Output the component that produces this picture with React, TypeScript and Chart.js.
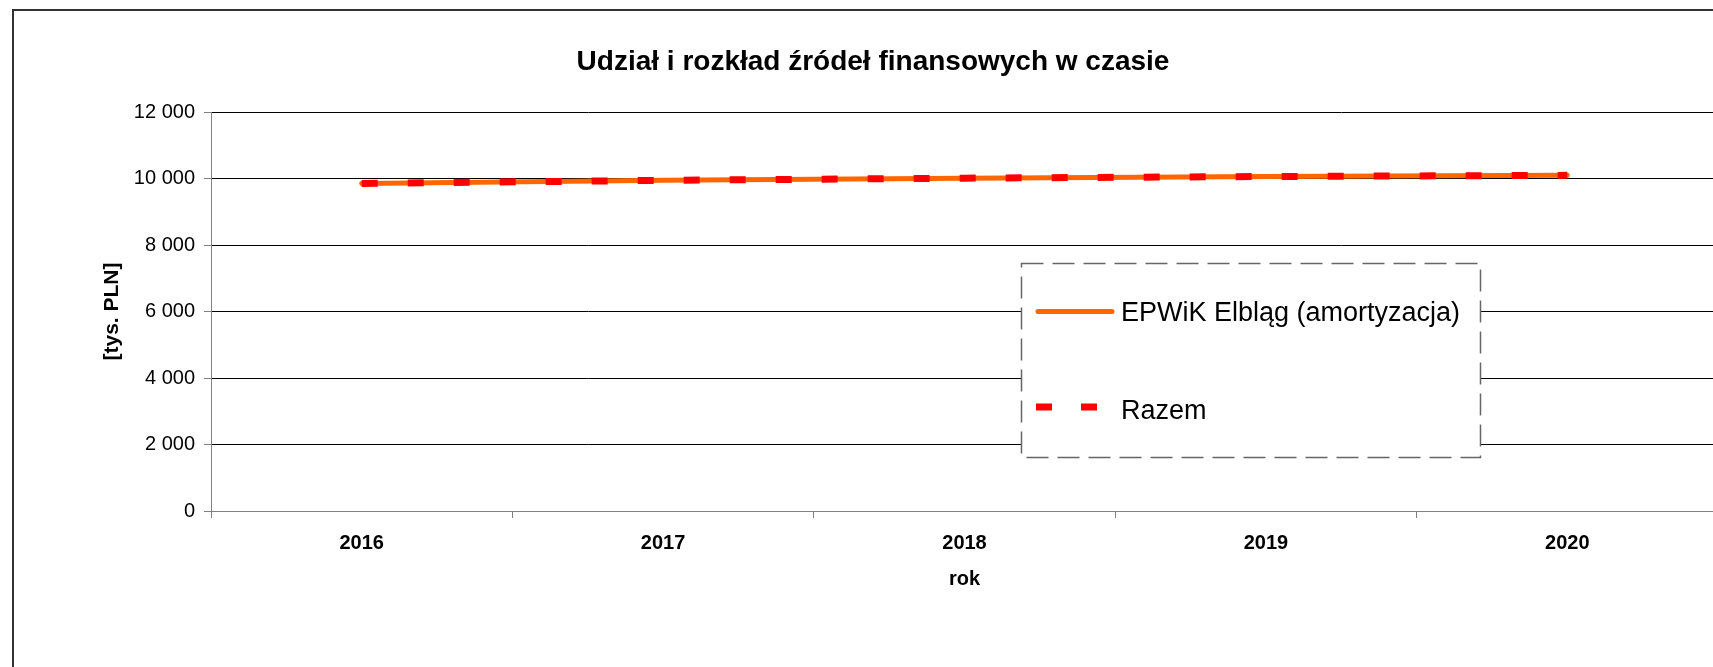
import { useEffect, useRef } from 'react';
import { Chart, registerables } from 'chart.js';

Chart.register(...registerables);

const years = ['2016', '2017', '2018', '2019', '2020'];
const epwikValues = [9850, 9945, 10010, 10060, 10095];
const razemValues = [9850, 9945, 10010, 10060, 10095];
const seriesNames = ['EPWiK Elbląg (amortyzacja)', 'Razem'];
const seriesColors = ['#FF6600', '#FF0000'];
const yMin = 0;
const yMax = 12000;
const yStep = 2000;
const chartTitle = 'Udział i rozkład źródeł finansowych w czasie';
const xTitle = 'rok';
const yTitle = '[tys. PLN]';

const FONT = "'Liberation Sans', Arial, sans-serif";
const CANVAS_W = 1718;
const CANVAS_H = 667;

const fmt = (v: number) => String(v).replace(/\B(?=(\d{3})+(?!\d))/g, ' ');

const frameAndLegend = {
  id: 'frameAndLegend',
  beforeDraw(chart: any) {
    const ctx = chart.ctx;
    ctx.save();
    ctx.fillStyle = '#ffffff';
    ctx.fillRect(0, 0, chart.width, chart.height);
    ctx.strokeStyle = '#333333';
    ctx.lineWidth = 2;
    ctx.strokeRect(13, 10, chart.width + 20, chart.height + 20);
    ctx.restore();
  },
  afterDraw(chart: any) {
    const ctx = chart.ctx;
    const ds = chart.data.datasets;
    ctx.save();
    const x0 = 1021, y0 = 263, w = 459, h = 194;
    ctx.fillStyle = '#ffffff';
    ctx.fillRect(x0, y0, w, h);
    ctx.setLineDash([22, 9]);
    ctx.strokeStyle = '#666666';
    ctx.lineWidth = 1.5;
    ctx.strokeRect(x0 + 0.5, y0 + 0.5, w, h);
    ctx.setLineDash([]);

    // entry 1: solid line
    ctx.strokeStyle = ds[0].borderColor;
    ctx.lineWidth = 5;
    ctx.lineCap = 'round';
    ctx.beginPath();
    ctx.moveTo(1038, 311.5);
    ctx.lineTo(1112, 311.5);
    ctx.stroke();

    // entry 2: dashes
    ctx.fillStyle = ds[1].borderColor;
    ctx.fillRect(1036, 403.5, 16, 7);
    ctx.fillRect(1081, 403.5, 16, 7);

    ctx.fillStyle = '#000000';
    ctx.font = `27px ${FONT}`;
    ctx.textBaseline = 'alphabetic';
    ctx.textAlign = 'left';
    ctx.fillText(ds[0].label, 1121, 321);
    ctx.fillText(ds[1].label, 1121, 418.5);
    ctx.restore();
  },
};

export default function App() {
  const ref = useRef<HTMLCanvasElement>(null);

  useEffect(() => {
    if (!ref.current) return;
    const chart = new Chart(ref.current, {
      type: 'line',
      data: {
        labels: years,
        datasets: [
          {
            label: seriesNames[0],
            data: epwikValues,
            borderColor: seriesColors[0],
            backgroundColor: seriesColors[0],
            borderWidth: 5,
            borderCapStyle: 'round',
            pointRadius: 0,
            tension: 0,
            order: 1,
          },
          {
            label: seriesNames[1],
            data: razemValues,
            borderColor: seriesColors[1],
            backgroundColor: seriesColors[1],
            borderWidth: 7,
            borderDash: [16, 30],
            borderCapStyle: 'butt',
            pointRadius: 0,
            tension: 0,
            order: 0,
          },
        ],
      },
      options: {
        responsive: false,
        animation: false,
        devicePixelRatio: 1,
        layout: { padding: { left: 28, top: 0, right: 0, bottom: 56 } },
        font: { family: FONT },
        plugins: {
          legend: { display: false },
          tooltip: { enabled: false },
          title: {
            display: true,
            text: chartTitle,
            color: '#000',
            font: { family: FONT, size: 28, weight: 'bold' },
            padding: { top: 45.5, bottom: 32.9 },
          },
        },
        scales: {
          x: {
            type: 'category',
            offset: true,
            grid: {
              offset: true,
              drawOnChartArea: false,
              drawTicks: true,
              tickLength: 7,
              tickColor: '#808080',
            },
            border: { color: '#808080', width: 1 },
            ticks: {
              color: '#000',
              padding: 13.5,
              maxRotation: 0,
              font: { family: FONT, size: 20, weight: 'bold' },
            },
            title: {
              display: true,
              text: xTitle,
              color: '#000',
              font: { family: FONT, size: 20, weight: 'bold' },
              padding: { top: 0, bottom: 20 },
            },
            afterFit: (s: any) => {
              s.height = 100;
            },
          },
          y: {
            min: yMin,
            max: yMax,
            grid: {
              color: (c: any) => (c.tick && c.tick.value === 0 ? '#808080' : '#000000'),
              lineWidth: 1,
              drawTicks: true,
              tickLength: 7,
              tickColor: '#808080',
            },
            border: { color: '#808080', width: 1 },
            ticks: {
              stepSize: yStep,
              color: '#000',
              padding: 9,
              font: { family: FONT, size: 20 },
              callback: (v: any) => fmt(Number(v)),
            },
            title: {
              display: true,
              text: yTitle,
              color: '#000',
              font: { family: FONT, size: 21, weight: 'bold' },
              padding: { top: 71.4, bottom: 0 },
            },
            afterFit: (s: any) => {
              s.width = 183;
            },
          },
        },
      },
      plugins: [frameAndLegend],
    } as any);
    return () => chart.destroy();
  }, []);

  return (
    <div
      style={{
        position: 'absolute',
        left: 0,
        top: 0,
        width: 1713,
        height: 667,
        overflow: 'hidden',
        background: '#fff',
      }}
    >
      <canvas
        ref={ref}
        width={CANVAS_W}
        height={CANVAS_H}
        style={{ display: 'block', width: CANVAS_W, height: CANVAS_H }}
      />
    </div>
  );
}
